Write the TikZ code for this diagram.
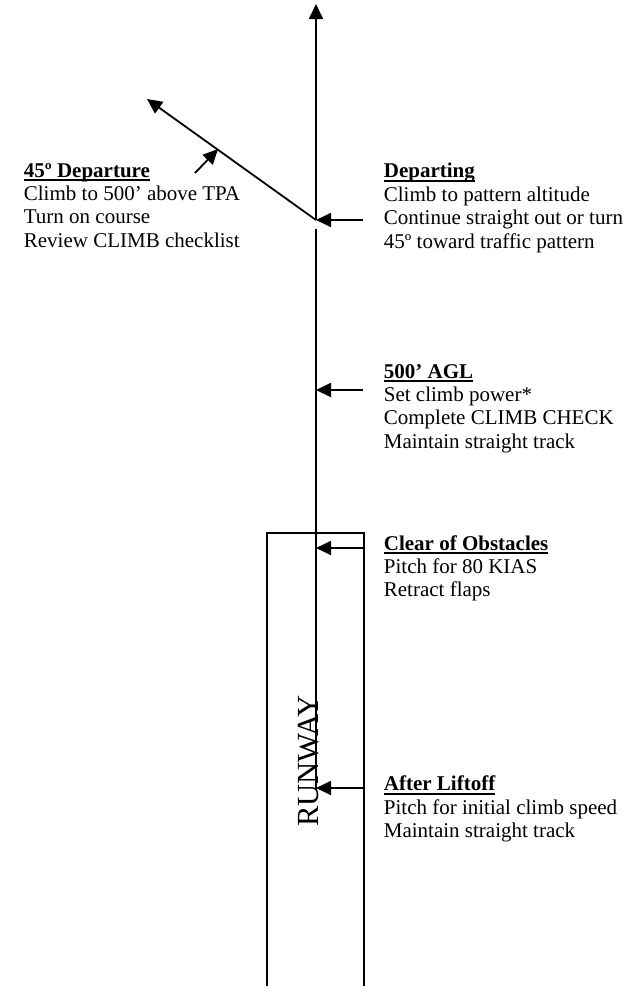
\documentclass[tikz,border=0pt]{standalone}
\usepackage{fontspec}
\setmainfont{Liberation Serif}
\usetikzlibrary{arrows.meta}
\newcommand\undl[1]{\setbox0\hbox{#1}\rlap{\vrule width\wd0 height -2.2pt depth 3.8pt}\box0}
\begin{document}
\begin{tikzpicture}[x=1pt,y=-1pt,line width=1.8pt,
  arr/.style={-{Triangle[length=15pt,width=14pt]}},
  lbl/.style={anchor=base west,inner sep=0pt,align=left,font=\fontsize{21}{23.4}\selectfont},
  rwy/.style={font=\fontsize{30.7}{34}\selectfont,inner sep=0pt}]
\useasboundingbox (0,0) rectangle (638,986);
% runway
\draw (267,986) -- (267,533) -- (364,533) -- (364,986);
\node[rwy,rotate=90,anchor=base] (runway) at (318.3,761) {RUNWAY};
% track
\coordinate (start) at (316,790);
\coordinate (gapb) at (316,229);
\coordinate (junc) at (316,220);
\coordinate (top) at (316,4);
\coordinate (diag) at (147,99);
\coordinate (sa) at (195,173);
\coordinate (sb) at (218,149);
\draw (start) -- (gapb);
\draw[arr] (junc) -- (top);
\draw[arr] (junc) -- (diag);
\draw[arr] (sa) -- (sb);
% side arrows
\coordinate (depS) at (363,220);
\coordinate (aglS) at (363,390);
\coordinate (aglT) at (316,390);
\coordinate (clrS) at (363,548);
\coordinate (clrT) at (316,548);
\coordinate (aftS) at (363,788);
\coordinate (aftT) at (316,788);
\draw[arr] (depS) -- (junc);
\draw[arr] (aglS) -- (aglT);
\draw[arr] (clrS) -- (clrT);
\draw[arr] (aftS) -- (aftT);
% labels (anchor is the baseline of the last line)
\node[lbl] (dep45) at (23,247.2) {\undl{\textbf{45º Departure}}\\Climb to 500’ above TPA\\Turn on course\\Review CLIMB checklist};
\node[lbl] (dep) at (383,248) {\undl{\textbf{Departing}}\\Climb to pattern altitude\\Continue straight out or turn\\45º toward traffic pattern};
\node[lbl] (agl) at (383,448.2) {\undl{\textbf{500’ AGL}}\\Set climb power*\\Complete CLIMB CHECK\\Maintain straight track};
\node[lbl] (clr) at (383,596.8) {\undl{\textbf{Clear of Obstacles}}\\Pitch for 80 KIAS\\Retract flaps};
\node[lbl] (aft) at (383,837.5) {\undl{\textbf{After Liftoff}}\\Pitch for initial climb speed\\Maintain straight track};
\end{tikzpicture}
\end{document}
